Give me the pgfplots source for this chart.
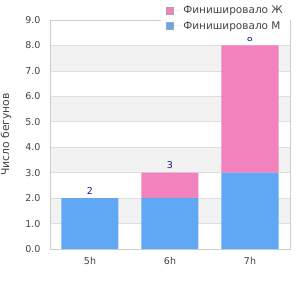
\documentclass[border=0pt]{standalone}
\usepackage{pgfplots}
\pgfplotsset{compat=1.18}
\usepackage{fontspec}
\setmainfont{DejaVu Sans}
\definecolor{barM}{RGB}{97,168,244}
\definecolor{barF}{RGB}{242,130,189}
\definecolor{axgray}{RGB}{204,204,204}
\definecolor{gline}{RGB}{222,222,222}
\definecolor{band}{RGB}{242,242,242}
\definecolor{txt}{RGB}{68,68,68}
\definecolor{lbl}{RGB}{26,26,140}
\begin{document}
\begin{tikzpicture}
\path[use as bounding box] (-50bp,-51bp) rectangle (250bp,249bp);
\begin{axis}[
  scale only axis,
  width=240bp, height=229bp,
  xmin=-0.5, xmax=2.5,
  ymin=0, ymax=9,
  ybar stacked,
  bar width=57bp,
  xtick={0,1,2},
  xticklabels={5h,6h,7h},
  ytick={0,1,...,9},
  yticklabel style={/pgf/number format/fixed, /pgf/number format/fixed zerofill, /pgf/number format/precision=1, xshift=-6bp},
  /pgf/number format/assume math mode=true,
  axis background/.style={fill=white, path picture={
    \foreach \k in {1,3,5,7} {
      \fill[band] ([yshift=\k*25.4444bp]path picture bounding box.south west) rectangle ++(240bp,25.4444bp);
    }}},
  ymajorgrids,
  grid style={gline, line width=0.6bp},
  axis line style={axgray, line width=0.8bp},
  major tick length=0pt,
  tick label style={font=\fontsize{9.5bp}{11bp}\selectfont, text=txt},
  xticklabel style={yshift=-5bp},
  ylabel={Число бегунов},
  ylabel style={font=\fontsize{10.8bp}{12bp}\selectfont, text=txt, at={(axis description cs:-0.183,0.5)}, anchor=center},
  legend style={at={(axis description cs:1.0,1.087)}, anchor=north east, draw=none, fill=white,
    font=\fontsize{10.5bp}{12bp}\selectfont, text=txt, inner xsep=5bp, inner ysep=4bp, row sep=2bp,
    cells={anchor=west}},
  legend image code/.code={\draw[draw=gray!70, line width=0.4bp, #1] (0bp,-3.5bp) rectangle (7bp,3.5bp); \path (0bp,0bp) -- (15bp,0bp);},
  reverse legend,
]
\addplot[fill=barM, draw=none] coordinates {(0,2) (1,2) (2,3)};
\addlegendentry{Финишировало М}
\addplot[fill=barF, draw=none] coordinates {(0,0) (1,1) (2,5)};
\addlegendentry{Финишировало Ж}
\node[font=\fontsize{9.5bp}{11bp}\selectfont, text=lbl, anchor=south, inner sep=3.5bp] at (axis cs:0,2) {2};
\node[font=\fontsize{9.5bp}{11bp}\selectfont, text=lbl, anchor=south, inner sep=3.5bp] at (axis cs:1,3) {3};
\node[font=\fontsize{9.5bp}{11bp}\selectfont, text=lbl, anchor=south, inner sep=3.5bp] at (axis cs:2,8) {8};
\end{axis}
\end{tikzpicture}
\end{document}
